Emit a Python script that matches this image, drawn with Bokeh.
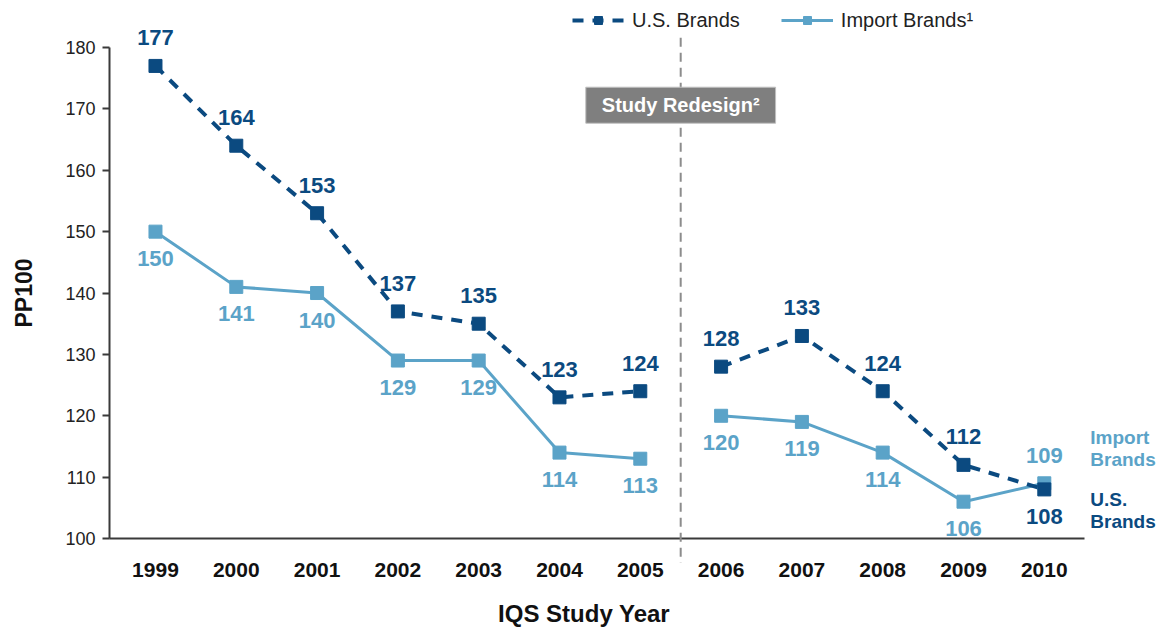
import math
from bokeh.plotting import figure
from bokeh.models import (ColumnDataSource, LabelSet, Label, FixedTicker, Legend,
                          LegendItem, Arrow, Range1d)
from bokeh.core.properties import value
from bokeh.embed import file_html
from bokeh.resources import INLINE

# ---------------- data ----------------
years = ["1999", "2000", "2001", "2002", "2003", "2004", "2005",
         "2006", "2007", "2008", "2009", "2010"]
us_brands = [177, 164, 153, 137, 135, 123, 124, 128, 133, 124, 112, 108]
import_brands = [150, 141, 140, 129, 129, 114, 113, 120, 119, 114, 106, 109]
us_label_side = ["above"] * 11 + ["below"]
import_label_side = ["below"] * 11 + ["above"]
y_ticks = [100, 110, 120, 130, 140, 150, 160, 170, 180]
redesign_year = "2006"

# ---------------- style ----------------
US_COLOR = "#0b4a80"
IMP_COLOR = "#5ba3c8"
FONT = "Liberation Sans"
ABOVE, BELOW = 28, -27
X_START, X_END = -0.569, 11.5      # visible extent of the category axis
Y_MIN, Y_MAX = y_ticks[0], y_ticks[-1]

idx = list(range(len(years)))
brk = years.index(redesign_year)

W, H = 1160, 628
p = figure(width=W, height=H, output_backend="svg", toolbar_location=None,
           x_range=Range1d(-1.918, 12.438), y_range=Range1d(85.34, 187.66),
           min_border_left=0, min_border_right=0, min_border_top=0,
           min_border_bottom=0)
p.outline_line_color = None
p.xgrid.visible = False
p.ygrid.visible = False
p.background_fill_color = "white"
p.border_fill_color = "white"

# axes (fixed inside the frame so that nothing gets clipped)
xa = p.xaxis[0]
xa.fixed_location = Y_MIN
xa.ticker = FixedTicker(ticks=idx)
xa.major_label_overrides = {i: y for i, y in zip(idx, years)}
xa.bounds = (X_START, X_END)
xa.major_tick_out = 0
xa.major_tick_in = 0
xa.minor_tick_out = 0
xa.minor_tick_in = 0
xa.axis_line_color = "#3a3a3a"
xa.axis_line_width = 2
xa.major_label_text_font = FONT
xa.major_label_text_font_style = "bold"
xa.major_label_text_font_size = "21px"
xa.major_label_text_color = "#111111"
xa.major_label_standoff = 24

ya = p.yaxis[0]
ya.fixed_location = X_START
ya.ticker = FixedTicker(ticks=y_ticks)
ya.bounds = (Y_MIN, Y_MAX)
ya.major_tick_out = 7
ya.major_tick_in = 0
ya.minor_tick_out = 0
ya.minor_tick_in = 0
ya.major_tick_line_color = "#3a3a3a"
ya.major_tick_line_width = 2
ya.axis_line_color = "#3a3a3a"
ya.axis_line_width = 2
ya.major_label_text_font = FONT
ya.major_label_text_font_size = "18px"
ya.major_label_text_color = "#222222"
ya.major_label_standoff = 7

# axis titles
p.add_layout(Label(x=(X_START + X_END) / 2, y=Y_MIN, x_offset=-13, y_offset=-75,
                   text="IQS Study Year", text_align="center", text_baseline="middle",
                   text_font=FONT, text_font_style="bold", text_font_size="24px",
                   text_color="#111111"))
p.add_layout(Label(x=X_START, y=(Y_MIN + Y_MAX) / 2, x_offset=-86,
                   text="PP100", angle=math.pi / 2, text_align="center",
                   text_baseline="middle", text_font=FONT, text_font_style="bold",
                   text_font_size="23px", text_color="#111111"))

# separator line (study redesign)
sep_x = brk - 0.5
p.add_layout(Arrow(end=None, x_start=sep_x, x_end=sep_x, y_start=181.6, y_end=96.0,
                   line_color="#8c8c8c", line_width=2, line_dash="9 6"))
p.add_layout(Label(x=sep_x, y=170.6, text="Study Redesign\u00b2", text_align="center",
                   text_baseline="middle", text_font=FONT, text_font_style="bold",
                   text_font_size="20px", text_color="white",
                   background_fill_color="#7f7f7f", border_line_color="#bfbfbf",
                   padding=dict(left=16, right=16, top=7, bottom=7)))

# series
us_r, imp_r = [], []
for seg in (slice(0, brk), slice(brk, None)):
    xs = idx[seg]
    imp_r.append(p.line(xs, import_brands[seg], line_color=IMP_COLOR, line_width=3))
    imp_r.append(p.scatter(xs, import_brands[seg], marker="square", size=13,
                           fill_color=IMP_COLOR, line_color=IMP_COLOR))
    us_r.append(p.line(xs, us_brands[seg], line_color=US_COLOR, line_width=4,
                       line_dash="11 9"))
    us_r.append(p.scatter(xs, us_brands[seg], marker="square", size=13,
                          fill_color=US_COLOR, line_color=US_COLOR))

# data labels
us_src = ColumnDataSource(dict(x=idx, y=us_brands, t=[str(v) for v in us_brands],
                               off=[ABOVE if s == "above" else BELOW for s in us_label_side]))
imp_src = ColumnDataSource(dict(x=idx, y=import_brands, t=[str(v) for v in import_brands],
                                off=[ABOVE if s == "above" else BELOW for s in import_label_side]))
for src, col in ((us_src, US_COLOR), (imp_src, IMP_COLOR)):
    p.add_layout(LabelSet(x="x", y="y", text="t", y_offset="off", source=src,
                          text_align="center", text_baseline="middle",
                          text_font=value(FONT), text_font_style="bold",
                          text_font_size="22px", text_color=col))

# end labels
last = len(years) - 1
p.add_layout(Label(x=last, y=import_brands[last], x_offset=46, y_offset=35,
                   text="Import\nBrands", text_align="left", text_baseline="middle",
                   text_font=FONT, text_font_style="bold", text_font_size="19px",
                   text_line_height=1.05, text_color=IMP_COLOR))
p.add_layout(Label(x=last, y=us_brands[last], x_offset=46, y_offset=-21,
                   text="U.S.\nBrands", text_align="left", text_baseline="middle",
                   text_font=FONT, text_font_style="bold", text_font_size="19px",
                   text_line_height=1.05, text_color=US_COLOR))

# legend
legend = Legend(items=[LegendItem(label="U.S. Brands", renderers=us_r[:2]),
                       LegendItem(label="Import Brands\u00b9", renderers=imp_r[:2])],
                orientation="horizontal", location=(572, 596),
                glyph_width=52, glyph_height=20, label_height=24, label_standoff=8,
                spacing=41, padding=0, margin=0, border_line_color=None,
                background_fill_alpha=0, label_text_font=FONT,
                label_text_font_size="20px", label_text_color="#222222")
p.add_layout(legend)

open("out.html", "w").write(file_html(p, INLINE))
